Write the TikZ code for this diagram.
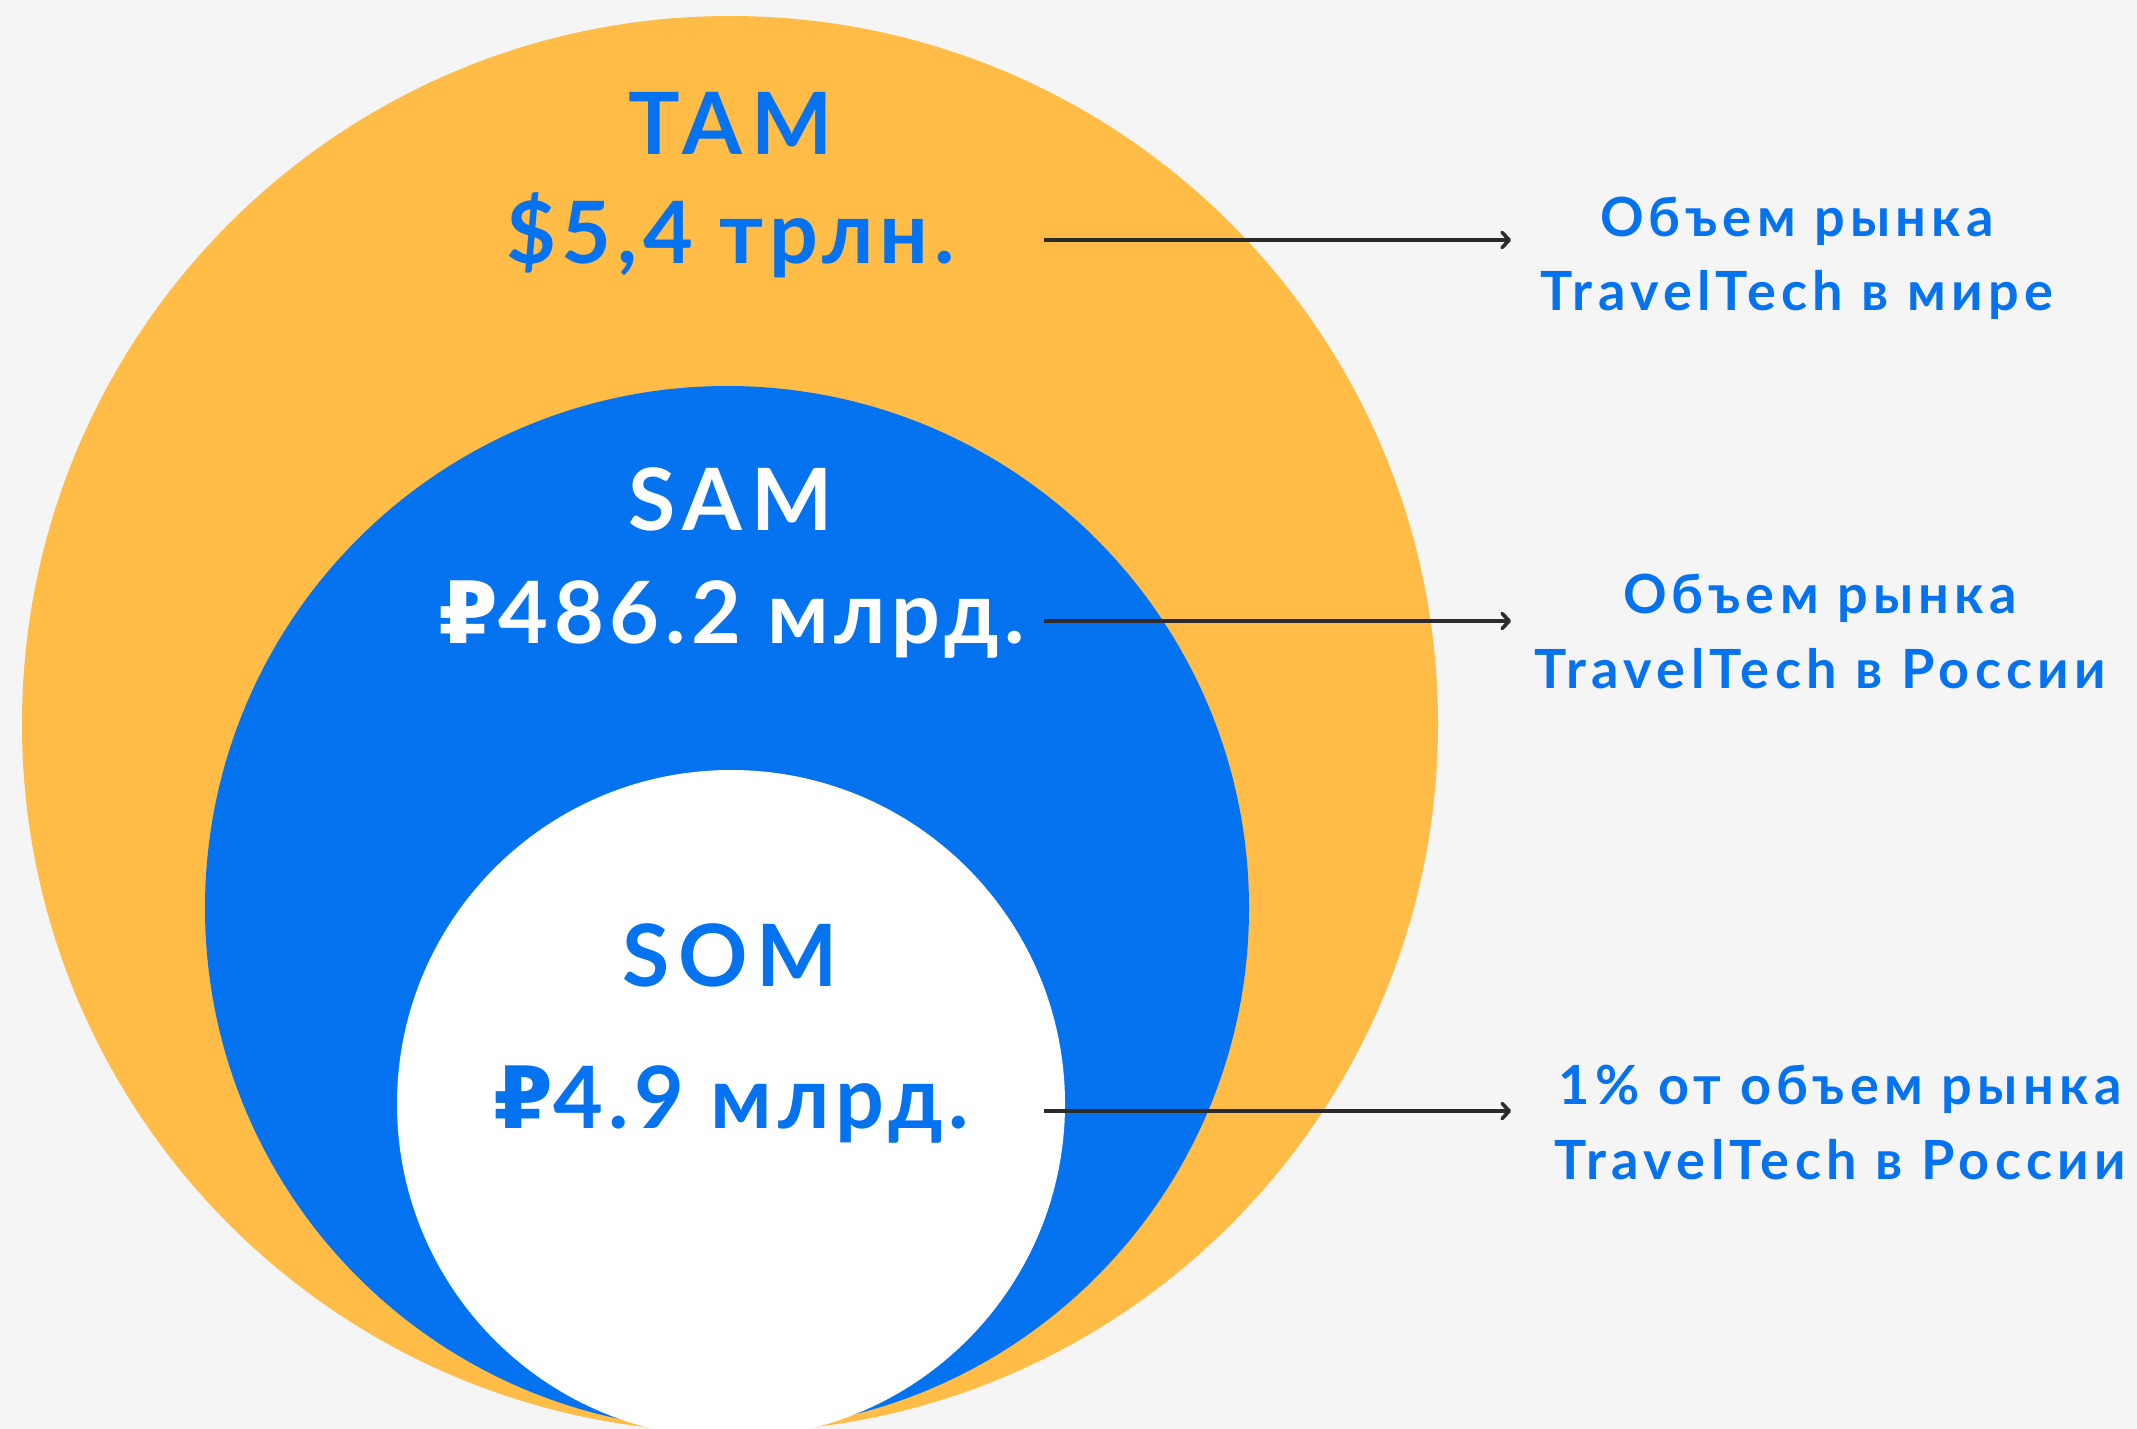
\documentclass[tikz,border=0pt]{standalone}
\usepackage{fontspec}
\setmainfont{Lato}
\newfontfamily\rubfont{DejaVu Sans}
\newcommand\rubsign{{\rubfont\bfseries ₽}}
\usetikzlibrary{arrows.meta}
\definecolor{bgc}{HTML}{F5F5F5}
\definecolor{tamc}{HTML}{FFBC47}
\definecolor{samc}{HTML}{0573F0}
\definecolor{txtc}{HTML}{0573F0}
\definecolor{arrc}{HTML}{2B2B2B}
\tikzset{
  headtxt/.style={font=\fontsize{86}{90}\selectfont\bfseries\addfontfeatures{LetterSpace=10}, inner sep=0pt, anchor=base},
  bigtxt/.style={font=\fontsize{86}{90}\selectfont\bfseries\addfontfeatures{LetterSpace=6.5}, inner sep=0pt, anchor=base},
  sidetxt/.style={font=\fontsize{54}{60}\selectfont\bfseries\addfontfeatures{LetterSpace=10}, inner sep=0pt, anchor=base, text=txtc},
  arr/.style={draw=arrc, line width=3.6pt, -{Straight Barb[length=7pt,width=15pt,line width=3.6pt,round]}}
}
\begin{document}
\begin{tikzpicture}[x=1pt,y=-1pt]
\fill[bgc] (0,0) rectangle (2137,1429);
\useasboundingbox (0,0) rectangle (2137,1429);
\begin{scope}
  \clip (0,0) rectangle (2137,1429);
  \fill[tamc] (730,724) circle[radius=708pt];
  \fill[samc] (727,908) circle[radius=522pt];
  \fill[white] (731,1104) circle[radius=334pt];
\end{scope}
% central texts
\node[headtxt, text=txtc] (tam) at (730.5,154) {TAM};
\node[bigtxt, text=txtc] (tamv) at (730.5,263) {\$5,4 трлн.};
\node[headtxt, text=white] (sam) at (730.5,530) {SAM};
\node[bigtxt, text=white] (samv) at (732,643) {\rubsign486.2 млрд.};
\node[headtxt, text=txtc] (som) at (730.5,986) {SOM};
\node[bigtxt, text=txtc] (somv) at (731,1128) {\rubsign4.9 млрд.};
% side texts
\node[sidetxt] (r1a) at (1797,236) {Объем рынка};
\node[sidetxt] (r1b) at (1797,310) {TravelTech в мире};
\node[sidetxt] (r2a) at (1820,613) {Объем рынка};
\node[sidetxt] (r2b) at (1820,688) {TravelTech в России};
\node[sidetxt] (r3a) at (1840,1104) {1\% от объем рынка};
\node[sidetxt] (r3b) at (1840,1179) {TravelTech в России};
% arrows
\coordinate (a1s) at (1044,240);
\coordinate (a1e) at (1511,240);
\coordinate (a2s) at (1044,621);
\coordinate (a2e) at (1511,621);
\coordinate (a3s) at (1044,1111);
\coordinate (a3e) at (1511,1111);
\draw[arr] (a1s) -- (a1e);
\draw[arr] (a2s) -- (a2e);
\draw[arr] (a3s) -- (a3e);
\end{tikzpicture}
\end{document}
